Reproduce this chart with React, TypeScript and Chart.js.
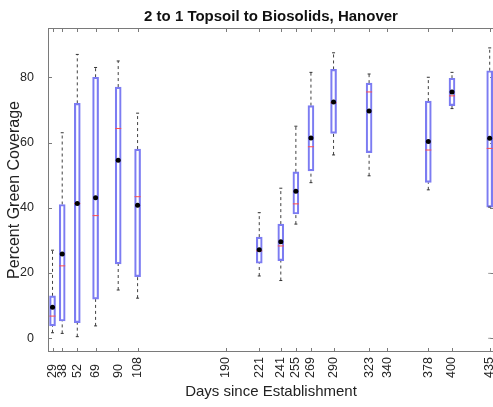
import { useEffect, useRef } from "react";
import { Chart, registerables } from "chart.js";

Chart.register(...registerables);

const FONT = "'Liberation Sans', Arial, Helvetica, sans-serif";

const chartTitle = "2 to 1 Topsoil to Biosolids, Hanover";
const xAxisTitle = "Days since Establishment";
const yAxisTitle = "Percent Green Coverage";

const days = [29, 38, 52, 69, 90, 108, 221, 241, 255, 269, 290, 323, 378, 400, 435];
const whiskerHigh = [27, 63, 87, 83, 85, 69, 38.5, 46, 65, 81.5, 87.5, 81, 80, 81.5, 89];
const q3 = [13, 41, 72, 80, 77, 58, 31, 35, 51, 71.3, 82.4, 78.2, 72.7, 79.7, 82];
const medians = [6.8, 22.2, 41.3, 37.6, 64.3, 43.4, 26.8, 28.3, 41.2, 58.7, 72.2, 75.5, 57.7, 74.3, 58.2];
const means = [9.5, 25.8, 41.3, 43.1, 54.6, 40.8, 27.1, 29.6, 45.1, 61.4, 72.4, 69.7, 60.3, 75.5, 61.3];
const q1 = [3.8, 5.3, 4.8, 12, 22.8, 18.9, 23, 23.8, 38.1, 51.3, 62.8, 56.9, 47.8, 71.3, 40.2];
const whiskerLow = [1.7, 1.5, 0.5, 3.8, 14.8, 12.3, 19.1, 17.7, 35, 47.7, 56.2, 49.8, 45.5, 70.4, 40.2];

const outlierDays = [435, 435];
const outlierValues = [19.9, 0];

const xTickValues = [29, 38, 52, 69, 90, 108, 190, 221, 241, 255, 269, 290, 323, 340, 378, 400, 435];
const yTickValues = [0, 20, 40, 60, 80];

const xMin = 24.8;
const xMax = 439;
const yMin = -4.2;
const yMax = 95.1;

export default function App() {
  const ref = useRef<HTMLCanvasElement>(null);

  useEffect(() => {
    if (!ref.current) return;

    const whiskerData: any[] = [];
    days.forEach((d, i) => {
      whiskerData.push({ x: d, y: whiskerLow[i] });
      whiskerData.push({ x: d, y: q1[i] });
      whiskerData.push({ x: d, y: null });
      whiskerData.push({ x: d, y: q3[i] });
      whiskerData.push({ x: d, y: whiskerHigh[i] });
      whiskerData.push({ x: d, y: null });
    });
    const capData: any[] = [];
    days.forEach((d, i) => {
      capData.push({ x: d, y: whiskerLow[i] });
      capData.push({ x: d, y: whiskerHigh[i] });
    });

    const framePlugin = {
      id: "frame",
      beforeDatasetsDraw(chart: any) {
        const { ctx, chartArea: a, scales } = chart;
        const x = scales.x;
        const y = scales.y;
        ctx.save();
        ctx.strokeStyle = "#7a7a7a";
        ctx.lineWidth = 1;
        ctx.strokeRect(a.left + 0.5, a.top + 0.5, a.right - a.left - 1, a.bottom - a.top - 1);
        ctx.beginPath();
        yTickValues.forEach((v) => {
          const py = Math.round(y.getPixelForValue(v)) + 0.5;
          ctx.moveTo(a.left, py);
          ctx.lineTo(a.left + 4, py);
          ctx.moveTo(a.right, py);
          ctx.lineTo(a.right - 4, py);
        });
        xTickValues.forEach((v) => {
          const px = Math.round(x.getPixelForValue(v)) + 0.5;
          ctx.moveTo(px, a.bottom);
          ctx.lineTo(px, a.bottom - 4);
          ctx.moveTo(px, a.top);
          ctx.lineTo(px, a.top + 4);
        });
        ctx.stroke();
        ctx.restore();
      },
      afterDraw(chart: any) {
        const { ctx, scales } = chart;
        const x = scales.x;
        ctx.save();
        ctx.fillStyle = "#262626";
        ctx.font = `12.5px ${FONT}`;
        ctx.textAlign = "left";
        ctx.textBaseline = "middle";
        xTickValues.forEach((v) => {
          const px = x.getPixelForValue(v);
          ctx.save();
          ctx.translate(px, 378);
          ctx.rotate(-Math.PI / 2);
          ctx.fillText(String(v), 0, 0);
          ctx.restore();
        });
        ctx.restore();
      },
    };

    const chart = new Chart(ref.current, {
      type: "bar",
      data: {
        datasets: [
          {
            type: "scatter",
            label: "mean",
            data: days.map((d, i) => ({ x: d, y: means[i] })),
            pointStyle: "circle",
            pointRadius: 2.5,
            backgroundColor: "#000",
            borderColor: "#000",
            borderWidth: 0,
          } as any,
          {
            type: "scatter",
            label: "median",
            data: days.map((d, i) => ({ x: d, y: medians[i] })),
            pointStyle: "line",
            pointRadius: 3,
            borderColor: "#ff4d4d",
            borderWidth: 1,
          } as any,
          {
            type: "scatter",
            label: "outliers",
            data: outlierDays.map((d, i) => ({ x: d, y: outlierValues[i] })),
            pointStyle: "line",
            pointRadius: 1.5,
            borderColor: "#9a9a9a",
            borderWidth: 1,
          } as any,
          {
            type: "scatter",
            label: "caps",
            data: capData,
            pointStyle: "line",
            pointRadius: 1.5,
            borderColor: "#333",
            borderWidth: 1,
          } as any,
          {
            type: "bar",
            label: "box",
            data: days.map((d, i) => ({ x: d, y: [q1[i], q3[i]] })),
            backgroundColor: "rgba(255,255,255,0)",
            borderColor: "#7c7cf2",
            borderWidth: 1.5,
            borderSkipped: false,
            barThickness: 6,
            grouped: false,
          } as any,
          {
            type: "line",
            label: "whiskers",
            data: whiskerData,
            borderColor: "#404040",
            borderWidth: 1,
            borderDash: [3, 3],
            pointRadius: 0,
            spanGaps: false,
            fill: false,
          } as any,
        ],
      },
      options: {
        animation: false,
        responsive: false,
        events: [],
        layout: { padding: { left: 0, right: 48, top: 0, bottom: 0 } },
        plugins: {
          legend: { display: false },
          tooltip: { enabled: false },
          title: {
            display: true,
            fullSize: false,
            text: chartTitle,
            color: "#111",
            font: { family: FONT, size: 15, weight: "bold" },
            padding: { top: 8, bottom: 2 },
          },
        },
        scales: {
          x: {
            type: "linear",
            min: xMin,
            max: xMax,
            offset: false,
            grid: { display: false },
            border: { display: false },
            ticks: { display: false },
            title: {
              display: true,
              text: xAxisTitle,
              color: "#222",
              font: { family: FONT, size: 15 },
              padding: { top: 0, bottom: 6 },
            },
            afterFit(scale: any) {
              scale.height = 55;
            },
          },
          y: {
            type: "linear",
            min: yMin,
            max: yMax,
            grid: { display: false },
            border: { display: false },
            afterBuildTicks(scale: any) {
              scale.ticks = yTickValues.map((v) => ({ value: v }));
            },
            ticks: {
              color: "#262626",
              font: { family: FONT, size: 12.5 },
              padding: 6,
            },
            title: {
              display: true,
              text: yAxisTitle,
              color: "#222",
              font: { family: FONT, size: 16 },
              padding: { top: 5, bottom: 0 },
            },
            afterFit(scale: any) {
              scale.width = 48;
            },
          },
        },
      } as any,
      plugins: [framePlugin],
    });

    return () => chart.destroy();
  }, []);

  return (
    <div
      style={{
        position: "fixed",
        left: 0,
        top: 0,
        width: 493,
        height: 407,
        overflow: "hidden",
        background: "#fff",
      }}
    >
      <canvas ref={ref} width={542} height={407} style={{ width: 542, height: 407, display: "block" }} />
    </div>
  );
}
